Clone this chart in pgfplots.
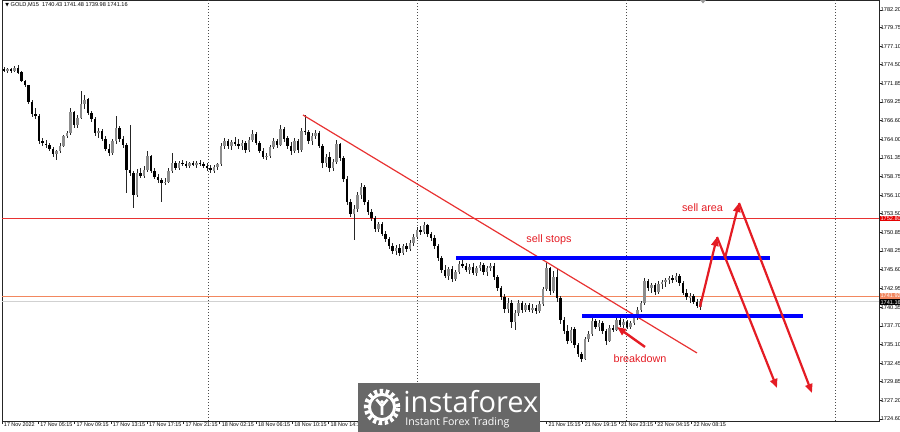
\documentclass[border=0pt]{standalone}
\usepackage{pgfplots}
\pgfplotsset{compat=1.18}
\usepackage{pgfplotstable}
\usepackage{fontspec}
\setmainfont{Liberation Sans}
\newfontfamily\dejavu{DejaVu Sans}
\newfontfamily\opensans{Open Sans}
\usetikzlibrary{arrows.meta}
\definecolor{mtred}{RGB}{228,28,36}
\definecolor{hred}{RGB}{232,50,50}
\definecolor{orln}{RGB}{242,135,95}
\definecolor{mtblue}{RGB}{0,0,255}
\definecolor{logogray}{RGB}{104,104,104}
\definecolor{bullgray}{RGB}{140,140,140}

\pgfplotstableread{
x o h l c
4 1773.90 1774.20 1773.50 1773.70
7.5 1773.70 1774.00 1773.30 1773.85
11 1773.85 1774.10 1773.40 1773.55
14.5 1773.55 1774.30 1773.40 1774.05
18 1774.05 1774.45 1773.20 1773.40
21.5 1773.40 1773.60 1772.00 1772.20
25 1772.20 1772.40 1771.30 1771.60
28.5 1771.60 1771.70 1768.90 1769.20
32 1769.20 1769.50 1767.20 1767.60
35.5 1767.60 1768.40 1766.90 1767.30
39 1767.30 1767.50 1763.40 1763.80
42.5 1763.80 1764.20 1763.10 1763.40
46 1763.40 1763.90 1762.80 1763.20
49.5 1763.20 1763.40 1762.40 1762.60
53 1762.60 1762.90 1761.50 1761.90
56.5 1761.90 1762.50 1761.10 1762.30
60 1762.30 1763.40 1762.00 1763.10
63.5 1763.10 1764.60 1762.90 1764.40
67 1764.40 1765.20 1764.10 1764.90
70.5 1764.90 1768.40 1764.60 1767.80
74 1767.80 1768.00 1765.60 1766.00
77.5 1766.00 1767.40 1765.60 1767.00
81 1767.00 1770.80 1766.80 1768.90
84.5 1768.90 1770.20 1768.20 1769.60
88 1769.60 1769.80 1767.40 1767.70
91.5 1767.70 1768.00 1766.40 1766.80
95 1766.80 1767.10 1764.50 1764.90
98.5 1764.90 1765.60 1764.10 1765.20
102 1765.20 1765.40 1763.70 1764.00
105.5 1764.00 1764.40 1762.30 1762.60
109 1762.60 1763.30 1761.70 1762.00
112.5 1762.00 1764.00 1761.80 1763.70
116 1763.70 1767.30 1763.40 1765.60
119.5 1765.60 1765.80 1763.60 1764.00
123 1764.00 1764.40 1762.80 1763.20
126.5 1763.20 1763.50 1756.40 1759.60
130 1759.60 1766.00 1758.80 1759.20
133.5 1759.20 1759.60 1754.30 1756.20
137 1756.20 1759.80 1755.90 1759.20
140.5 1759.20 1760.00 1758.50 1758.80
144 1758.80 1760.20 1758.50 1759.70
147.5 1759.70 1762.30 1759.40 1761.60
151 1761.60 1761.80 1759.20 1759.50
154.5 1759.50 1759.90 1758.40 1758.70
158 1758.70 1759.10 1757.90 1758.30
161.5 1758.30 1758.60 1755.20 1757.90
165 1757.90 1758.50 1757.50 1758.00
168.5 1758.00 1759.90 1757.80 1759.60
172 1759.60 1762.10 1759.30 1760.60
175.5 1760.60 1761.00 1759.60 1760.00
179 1760.00 1760.90 1759.70 1760.70
182.5 1760.70 1761.10 1760.20 1760.50
186 1760.50 1760.90 1760.00 1760.30
189.5 1760.30 1760.80 1759.90 1760.60
193 1760.60 1761.00 1760.20 1760.40
196.5 1760.40 1760.90 1760.00 1760.70
200 1760.70 1761.10 1760.20 1760.50
203.5 1760.50 1760.80 1759.90 1760.20
207 1760.20 1760.60 1759.60 1759.90
210.5 1759.90 1760.30 1759.30 1759.60
214 1759.60 1760.40 1759.20 1760.10
217.5 1760.10 1760.70 1759.70 1760.50
221 1760.50 1763.50 1760.30 1763.10
224.5 1763.10 1764.20 1762.70 1763.80
228 1763.80 1764.00 1762.60 1763.00
231.5 1763.00 1763.90 1762.50 1763.60
235 1763.60 1764.30 1763.10 1763.40
238.5 1763.40 1764.00 1762.60 1763.10
242 1763.10 1763.90 1762.50 1763.50
245.5 1763.50 1763.80 1762.10 1762.50
249 1762.50 1764.30 1762.20 1763.90
252.5 1763.90 1765.30 1763.60 1764.80
256 1764.80 1765.00 1763.20 1763.50
259.5 1763.50 1763.70 1762.00 1762.30
263 1762.30 1762.80 1761.20 1761.50
266.5 1761.50 1762.00 1761.10 1761.70
270 1761.70 1763.20 1761.40 1762.90
273.5 1762.90 1764.20 1762.60 1763.80
277 1763.80 1764.00 1762.80 1763.20
280.5 1763.20 1766.00 1763.00 1765.40
284 1765.40 1765.70 1763.60 1764.10
287.5 1764.10 1764.40 1762.60 1763.00
291 1763.00 1763.60 1761.80 1762.40
294.5 1762.40 1764.20 1762.10 1763.70
298 1763.70 1764.00 1762.00 1762.50
301.5 1762.50 1765.60 1762.20 1765.20
305 1765.20 1767.40 1764.60 1765.00
308.5 1765.00 1765.30 1763.40 1763.80
312 1763.80 1764.90 1763.20 1764.50
315.5 1764.50 1765.30 1764.00 1764.90
319 1764.90 1765.10 1762.80 1763.10
322.5 1763.10 1763.40 1760.00 1760.60
326 1760.60 1761.90 1760.10 1761.50
329.5 1761.50 1762.20 1759.40 1759.90
333 1759.90 1761.20 1759.50 1760.80
336.5 1760.80 1763.90 1760.50 1763.30
340 1763.30 1763.50 1760.90 1761.40
343.5 1761.40 1761.70 1758.00 1758.40
347 1758.40 1758.80 1754.70 1755.10
350.5 1755.10 1755.60 1753.10 1753.50
354 1753.50 1754.70 1749.80 1754.20
357.5 1754.20 1756.60 1753.80 1756.10
361 1756.10 1757.80 1755.60 1757.30
364.5 1757.30 1757.60 1754.80 1755.20
368 1755.20 1755.50 1753.40 1753.80
371.5 1753.80 1754.10 1752.50 1752.90
375 1752.90 1753.20 1751.00 1751.40
378.5 1751.40 1752.30 1751.00 1752.00
382 1752.00 1752.30 1750.30 1750.70
385.5 1750.70 1751.10 1749.50 1749.90
389 1749.90 1750.30 1748.50 1748.90
392.5 1748.90 1749.40 1747.80 1748.20
396 1748.20 1749.10 1747.70 1748.70
399.5 1748.70 1749.20 1747.50 1748.00
403 1748.00 1749.30 1747.70 1749.00
406.5 1749.00 1749.40 1748.10 1748.50
410 1748.50 1749.80 1748.20 1749.40
413.5 1749.40 1750.60 1749.00 1750.20
417 1750.20 1751.60 1749.90 1751.20
420.5 1751.20 1751.80 1750.50 1750.90
424 1750.90 1752.30 1750.60 1751.90
427.5 1751.90 1752.10 1750.30 1750.60
431 1750.60 1751.00 1749.70 1750.10
434.5 1750.10 1750.50 1748.60 1749.00
438 1749.00 1749.30 1746.80 1747.20
441.5 1747.20 1747.50 1745.20 1745.60
445 1745.60 1746.30 1744.40 1744.80
448.5 1744.80 1746.00 1744.20 1745.70
452 1745.70 1746.10 1743.90 1744.30
455.5 1744.30 1745.60 1744.00 1745.30
459 1745.30 1746.80 1745.00 1746.40
462.5 1746.40 1747.00 1745.90 1746.20
466 1746.20 1746.60 1745.30 1745.60
469.5 1745.60 1746.40 1745.00 1746.00
473 1746.00 1746.50 1744.90 1745.20
476.5 1745.20 1746.10 1744.80 1745.80
480 1745.80 1746.70 1745.40 1746.30
483.5 1746.30 1746.60 1744.90 1745.30
487 1745.30 1746.20 1744.70 1745.90
490.5 1745.90 1746.60 1745.50 1746.20
494 1746.20 1746.50 1744.20 1744.60
497.5 1744.60 1744.90 1742.60 1743.00
501 1743.00 1743.40 1741.40 1741.80
504.5 1741.80 1742.20 1739.60 1740.10
508 1740.10 1741.60 1739.60 1741.00
511.5 1741.00 1741.30 1737.40 1738.20
515 1738.20 1740.00 1737.10 1739.50
518.5 1739.50 1741.40 1739.10 1740.90
522 1740.90 1741.20 1739.60 1740.00
525.5 1740.00 1741.00 1739.60 1740.60
529 1740.60 1741.00 1739.70 1740.00
532.5 1740.00 1740.80 1739.50 1740.30
536 1740.30 1740.60 1739.40 1739.80
539.5 1739.80 1741.20 1739.50 1740.80
543 1740.80 1743.20 1740.50 1742.90
546.5 1742.90 1746.60 1742.60 1745.80
550 1745.80 1746.00 1742.00 1742.60
553.5 1742.60 1745.40 1742.30 1744.60
557 1744.60 1745.80 1741.10 1741.60
560.5 1741.60 1741.90 1738.00 1738.50
564 1738.50 1738.90 1736.60 1737.00
567.5 1737.00 1737.80 1735.10 1735.60
571 1735.60 1737.60 1735.30 1737.20
574.5 1737.20 1737.50 1734.60 1735.00
578 1735.00 1735.30 1733.40 1733.80
581.5 1733.80 1734.10 1732.60 1733.10
585 1733.10 1736.20 1732.90 1735.80
588.5 1735.80 1737.00 1735.40 1736.60
592 1736.60 1738.90 1736.30 1738.40
595.5 1738.40 1738.70 1737.20 1737.60
599 1737.60 1738.50 1737.00 1738.10
602.5 1738.10 1738.40 1736.60 1737.00
606 1737.00 1737.30 1735.00 1735.60
609.5 1735.60 1737.80 1735.40 1737.40
613 1737.40 1737.90 1736.80 1737.20
616.5 1737.20 1738.80 1737.00 1738.50
620 1738.50 1738.80 1737.50 1737.90
623.5 1737.90 1738.70 1737.40 1738.30
627 1738.30 1738.60 1737.30 1737.60
630.5 1737.60 1738.40 1737.30 1738.10
634 1738.10 1739.00 1737.80 1738.80
637.5 1738.80 1740.30 1738.50 1740.00
641 1740.00 1741.20 1739.70 1740.90
644.5 1740.90 1744.50 1740.60 1744.00
648 1744.00 1744.30 1742.60 1743.00
651.5 1743.00 1743.80 1742.30 1743.50
655 1743.50 1743.80 1742.10 1742.50
658.5 1742.50 1744.00 1742.20 1743.60
662 1743.60 1744.20 1742.90 1743.90
665.5 1743.90 1744.50 1743.20 1744.20
669 1744.20 1744.80 1743.60 1744.50
672.5 1744.50 1744.90 1743.80 1744.10
676 1744.10 1745.10 1743.90 1744.80
679.5 1744.80 1745.00 1743.40 1743.70
683 1743.70 1744.00 1742.00 1742.30
686.5 1742.30 1742.90 1741.40 1741.80
690 1741.80 1742.30 1741.00 1741.90
693.5 1741.90 1742.20 1740.80 1741.10
697 1741.10 1741.50 1740.20 1740.50
700.5 1740.43 1741.48 1739.98 1741.16
}\candles

\begin{document}
\begin{tikzpicture}
\path[use as bounding box] (0,0) rectangle (450pt,216pt);
\begin{axis}[
  at={(1pt,5.5pt)}, anchor=south west,
  scale only axis, width=438.5pt, height=210.5pt,
  xmin=2, xmax=879, ymin=1724.31, ymax=1783.61,
  clip=false,
  axis line style={black!85, line width=0.45pt},
  ytick pos=right, xtick pos=bottom,
  tick align=outside, major tick length=1.4pt,
  tick style={black!85, line width=0.4pt},
  /pgf/number format/assume math mode=true,
  tick label style={font=\fontsize{2.8}{3}\selectfont, text=black},
  ytick={1782.20,1779.75,1777.10,1774.50,1771.85,1769.25,1766.60,1764.00,1761.35,1758.75,1756.10,1753.50,1750.85,1748.25,1745.60,1742.95,1740.35,1737.70,1735.10,1732.45,1729.85,1727.20,1724.60},
  yticklabels={1782.20,1779.75,1777.10,1774.50,1771.85,1769.25,1766.60,1764.00,1761.35,1758.75,1756.10,1753.50,1750.85,1748.25,1745.60,1742.95,1740.35,1737.70,1735.10,1732.45,1729.85,1727.20,1724.60},
  yticklabel style={anchor=west, xshift=-1.2pt, inner sep=0.5pt},
  xtick={2,38.3,74.6,110.9,147.2,183.5,219.8,256.1,292.4,328.7,546.5,582.8,619.1,655.4,691.7},
  xticklabels={17 Nov 2022,17 Nov 05:15,17 Nov 09:15,17 Nov 13:15,17 Nov 17:15,17 Nov 21:15,18 Nov 02:15,18 Nov 06:15,18 Nov 10:15,18 Nov 14:15,21 Nov 15:15,21 Nov 19:15,21 Nov 23:15,22 Nov 04:15,22 Nov 08:15},
  xticklabel style={anchor=north west, xshift=0.3pt, yshift=1.2pt, inner sep=0.5pt, font=\fontsize{2.7}{3}\selectfont},
]
% day separators
\foreach \d in {208,417,626,835}{
  \edef\tmp{\noexpand\draw[black!70, line width=0.4pt, dash pattern=on 0.5pt off 1pt] (axis cs:\d,1724.31) -- (axis cs:\d,1783.61);}
  \tmp
}
% horizontal levels
\draw[hred, line width=0.6pt] (axis cs:2,1752.80) -- (axis cs:879,1752.80);
\draw[black!18, line width=0.5pt] (axis cs:2,1741.16) -- (axis cs:879,1741.16);
\draw[orln, line width=0.45pt] (axis cs:2,1741.92) -- (axis cs:879,1741.92);

% wicks
\addplot[draw=none, mark=none, forget plot,
  error bars/.cd, y dir=both, y explicit, error mark=none,
  error bar style={draw=black!85, line width=0.45pt}]
  table[x=x, y expr={(\thisrow{h}+\thisrow{l})/2}, y error expr={(\thisrow{h}-\thisrow{l})/2}] \candles;
% bearish bodies
\addplot[draw=none, mark=none, forget plot, unbounded coords=discard,
  error bars/.cd, y dir=both, y explicit, error mark=none,
  error bar style={draw=black, line width=1.1pt}]
  table[x=x, y expr={\thisrow{c}<\thisrow{o} ? (\thisrow{o}+\thisrow{c})/2 : nan}, y error expr={max(abs(\thisrow{o}-\thisrow{c})/2,0.07)}] \candles;
% bullish bodies
\addplot[draw=none, mark=none, forget plot, unbounded coords=discard,
  error bars/.cd, y dir=both, y explicit, error mark=none,
  error bar style={draw=bullgray, line width=1.1pt}]
  table[x=x, y expr={\thisrow{c}<\thisrow{o} ? nan : (\thisrow{o}+\thisrow{c})/2}, y error expr={max(abs(\thisrow{o}-\thisrow{c})/2,0.07)}] \candles;

% trendline
\draw[hred, line width=0.6pt] (axis cs:303,1767.41) -- (axis cs:697,1733.89);
% blue levels
\draw[mtblue, line width=2pt] (axis cs:456,1747.27) -- (axis cs:770,1747.27);
\draw[mtblue, line width=2pt] (axis cs:582,1739.14) -- (axis cs:803,1739.14);
% arrows
\draw[mtred, line width=1.2pt, -{Triangle[length=4.5pt,width=3.6pt]}] (axis cs:645,1734.74) -- (axis cs:617,1737.55);
\draw[mtred, line width=1.1pt, -{Triangle[length=4.5pt,width=3.6pt]}] (axis cs:700,1740.37) -- (axis cs:717,1750.23);
\draw[mtred, line width=1.1pt, -{Triangle[length=4.5pt,width=3.6pt]}] (axis cs:717,1750.23) -- (axis cs:777,1728.96);
\draw[mtred, line width=1.1pt, -{Triangle[length=4.5pt,width=3.6pt]}] (axis cs:725,1747.27) -- (axis cs:739,1755.02);
\draw[mtred, line width=1.1pt, -{Triangle[length=4.5pt,width=3.6pt]}] (axis cs:739,1755.02) -- (axis cs:812,1728.26);
% labels
\node[text=mtred, font=\fontsize{5.4}{6}\selectfont, inner sep=0pt] at (axis cs:549,1749.81) {sell stops};
\node[text=mtred, font=\fontsize{5.4}{6}\selectfont, inner sep=0pt] at (axis cs:640,1733.04) {breakdown};
\node[text=mtred, font=\fontsize{5.4}{6}\selectfont, inner sep=0pt] at (axis cs:702.5,1754.31) {sell area};
% price boxes
\node[fill=red!90!black, text=white, anchor=west, inner sep=0.35pt, font=\fontsize{2.8}{3}\selectfont] at (axis cs:879.5,1752.80) {1752.80};
\node[fill=orln, text=white, anchor=west, inner sep=0.35pt, font=\fontsize{2.8}{3}\selectfont] at (axis cs:879.5,1741.92) {1741.92};
\node[fill=black, text=white, anchor=west, inner sep=0.35pt, font=\fontsize{2.8}{3}\selectfont] at (axis cs:879.5,1741.05) {1741.16};
\end{axis}
% header
\node[anchor=west, inner sep=0pt, font=\fontsize{2.8}{3}\selectfont] at (2.5pt,213.6pt) {{\dejavu\fontsize{2.4}{3}\selectfont ▼} GOLD,M15\ \ 1740.43 1741.48 1739.98 1741.16};
% shift marker
\fill[black!40] (350pt,216pt) -- (353pt,216pt) -- (351.5pt,214.3pt) -- cycle;
% logo watermark
\fill[logogray] (179pt,0) rectangle (270pt,24.5pt);
\begin{scope}[shift={(191pt,12.5pt)}]
  \draw[white, line width=2.2pt, dash pattern=on 1.7pt off 1.3pt] (0,0) circle (8pt);
  \draw[white, line width=1.5pt] (0,0) circle (6.3pt);
  \draw[white, line width=1.3pt] (0,-4pt) -- (0,0.5pt) -- (-2.8pt,3.8pt) (0,0.5pt) -- (2.8pt,3.8pt);
  \fill[white] (0,2.6pt) circle (0.9pt);
\end{scope}
\node[anchor=west, text=white, inner sep=0pt, font=\opensans\fontsize{14.5}{15}\selectfont] at (201.5pt,15pt) {instaforex};
\node[anchor=west, text=white, inner sep=0pt, font=\opensans\fontsize{5.3}{6}\selectfont] at (202.5pt,4.5pt) {Instant Forex Trading};
\end{tikzpicture}
\end{document}
